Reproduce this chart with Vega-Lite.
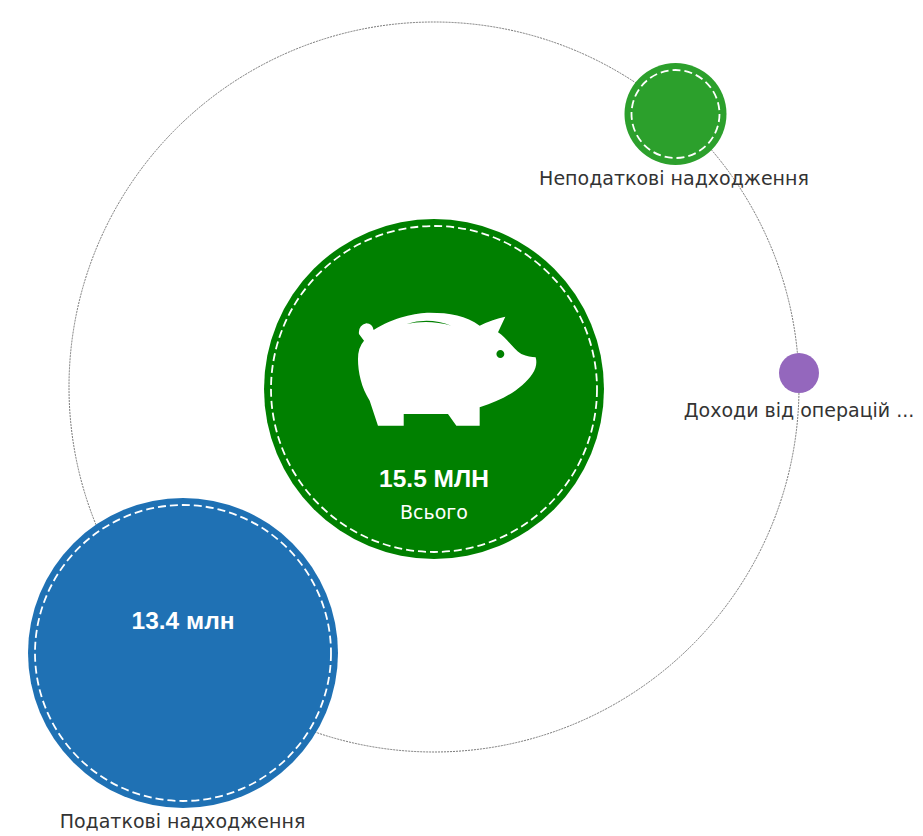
{
"$schema":"https://vega.github.io/schema/vega-lite/v6.json",
"width":923,"height":836,"padding":0,"autosize":{"type":"fit","contains":"padding"},
"background":"white","view":{"stroke":null},
"resolve":{"scale":{"size":"independent"}},
"datasets":{
"bubbles":[
{"name":"Всього","value":15.5,"x":434,"y":389,"valueText":"15.5 МЛН","valueY":480,"labelX":434,"labelY":513},
{"name":"Податкові надходження","value":13.4,"x":183,"y":653,"valueText":"13.4 млн","valueY":622,"labelX":182.5,"labelY":822},
{"name":"Неподаткові надходження","value":2.0,"x":675.5,"y":114,"labelX":674,"labelY":179},
{"name":"Доходи від операцій ...","value":0.1,"x":799,"y":373,"labelX":799,"labelY":411}
],
"orbit":[{"x":434,"y":387}],
"pig":[{"x":447,"y":370}]
},
"layer":[
{"data":{"name":"orbit"},"mark":{"type":"point","shape":"circle","filled":false,"size":532900,"stroke":"#777777","strokeWidth":1,"strokeDash":[2,1],"opacity":1},
 "encoding":{"x":{"field":"x","type":"quantitative","scale":{"domain":[0,923],"nice":false,"zero":false},"axis":null},"y":{"field":"y","type":"quantitative","scale":{"domain":[836,0],"nice":false,"zero":false},"axis":null}}},
{"data":{"name":"bubbles"},"mark":{"type":"point","shape":"circle","filled":true,"opacity":1},
 "encoding":{"x":{"field":"x","type":"quantitative","axis":null},"y":{"field":"y","type":"quantitative","axis":null},
 "size":{"field":"value","type":"quantitative","legend":null,"scale":{"domain":[0.1,2,13.4,15.5],"range":[1600,10404,96100,115600]}},
 "color":{"field":"name","type":"nominal","legend":null,"scale":{"domain":["Всього","Податкові надходження","Неподаткові надходження","Доходи від операцій ..."],"range":["#008000","#1f71b4","#2ca02c","#9467bd"]}}}},
{"data":{"name":"bubbles"},"transform":[{"filter":"datum.value >= 1"}],"mark":{"type":"point","shape":"circle","filled":false,"stroke":"white","strokeWidth":1.8,"strokeDash":[8,4],"opacity":1},
 "encoding":{"x":{"field":"x","type":"quantitative","axis":null},"y":{"field":"y","type":"quantitative","axis":null},
 "size":{"field":"value","type":"quantitative","legend":null,"scale":{"domain":[2,13.4,15.5],"range":[7744,87616,106276]}}}},
{"data":{"name":"pig"},"mark":{"type":"point","filled":true,"opacity":1,"fill":"white","size":32400,"shape":"M -.978 -.4 Q -.989 -.493 -.896 -.519 Q -.83 -.519 -.815 -.444 C -.6 -.585 -.341 -.637 -.193 -.637 C .03 -.637 .215 -.604 .363 -.493 Q .511 -.567 .648 -.593 L .567 -.419 C .659 -.363 .733 -.233 .826 -.178 Q .919 -.141 .985 -.141 Q 1.011 -.048 .948 .044 C .844 .193 .659 .322 .363 .415 L .363 .619 L .104 .619 L .011 .489 L -.481 .489 L -.481 .619 L -.767 .619 L -.859 .341 C -.952 .193 -.989 .026 -.989 -.122 Q -.989 -.252 -.922 -.326 Z M .549 -.178 A .044 .044 0 1 0 .637 -.178 A .044 .044 0 1 0 .549 -.178 Z M .048 -.493 Q -.2 -.59 -.452 -.511 Q -.2 -.565 .048 -.493 Z"},
 "encoding":{"x":{"field":"x","type":"quantitative","axis":null},"y":{"field":"y","type":"quantitative","axis":null}}},
{"data":{"name":"bubbles"},"transform":[{"filter":"datum.valueText"}],"mark":{"type":"text","font":"Liberation Sans","fontSize":24.5,"fontWeight":"bold","fill":"white","align":"center","baseline":"middle"},
 "encoding":{"x":{"field":"x","type":"quantitative","axis":null},"y":{"field":"valueY","type":"quantitative","axis":null},"text":{"field":"valueText","type":"nominal"}}},
{"data":{"name":"bubbles"},"transform":[{"filter":"datum.name === 'Всього'"}],"mark":{"type":"text","font":"DejaVu Sans","fontSize":19,"fill":"white","align":"center","baseline":"middle"},
 "encoding":{"x":{"field":"labelX","type":"quantitative","axis":null},"y":{"field":"labelY","type":"quantitative","axis":null},"text":{"field":"name","type":"nominal"}}},
{"data":{"name":"bubbles"},"transform":[{"filter":"datum.name !== 'Всього'"}],"mark":{"type":"text","font":"DejaVu Sans","fontSize":19,"fill":"#333333","align":"center","baseline":"middle"},
 "encoding":{"x":{"field":"labelX","type":"quantitative","axis":null},"y":{"field":"labelY","type":"quantitative","axis":null},"text":{"field":"name","type":"nominal"}}}
]
}
